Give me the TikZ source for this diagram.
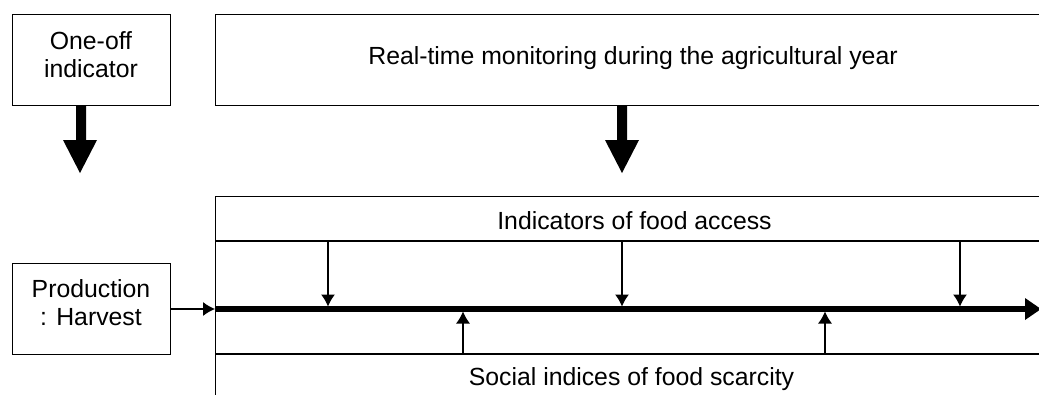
\documentclass[tikz,border=0pt]{standalone}
\usepackage{fontspec}
\setmainfont{Liberation Sans}
\usetikzlibrary{arrows.meta}
\begin{document}
\begin{tikzpicture}[x=0.75pt,y=-0.75pt,
  frame/.style={draw=black,line width=0.8pt},
  lbl/.style={font=\fontsize{18.6pt}{21pt}\selectfont,align=center,inner sep=0pt,anchor=base},
  bigarrow/.style={fill=black,draw=none},
  thin/.style={line width=0.8pt,-{Latex[length=9pt,width=10.5pt]}}]
\useasboundingbox (0,0) rectangle (1039,394);
% top boxes
\node[frame,minimum width=158*0.75pt,minimum height=91*0.75pt,anchor=north west,inner sep=0pt] (oneoff) at (12,14) {};
\node[lbl] (oneofftxt) at (91,77) {One-off\\indicator};
\node[frame,minimum width=840*0.75pt,minimum height=91*0.75pt,anchor=north west,inner sep=0pt] (realtime) at (215,14) {};
\node[lbl] (realtimetxt) at (633,64) {Real-time monitoring during the agricultural year};
% big arrows
\fill[bigarrow] (76,105) -- (86,105) -- (86,140) -- (97,140) -- (80,173) -- (63,140) -- (76,140) -- cycle;
\fill[bigarrow] (617,105) -- (627,105) -- (627,140) -- (639,140) -- (622,173) -- (605,140) -- (617,140) -- cycle;
% production box
\node[frame,minimum width=158*0.75pt,minimum height=91*0.75pt,anchor=north west,inner sep=0pt] (prod) at (12,263) {};
\node[lbl] (prodtxt) at (91,325) {Production\\: Harvest};
% bottom frame
\node[frame,minimum width=840*0.75pt,minimum height=210*0.75pt,anchor=north west,inner sep=0pt] (band) at (215,196) {};
\coordinate (l1a) at (215,241); \coordinate (l1b) at (1055,241);
\coordinate (l2a) at (215,354); \coordinate (l2b) at (1055,354);
\draw[frame] (l1a) -- (l1b);
\draw[frame] (l2a) -- (l2b);
\node[lbl] (access) at (634.5,229) {Indicators of food access};
\node[lbl] (scarcity) at (631.5,385) {Social indices of food scarcity};
% timeline
\coordinate (ts) at (215,309);
\coordinate (te) at (1027,309);
\draw[line width=4.5pt] (ts) -- (te);
\fill (1025,298) -- (1041,309) -- (1025,320) -- cycle;
\draw[thin] (prod.east |- ts) -- (ts);
% indicator arrows
\foreach \x in {328,622,960} \draw[thin] (\x,241) -- (\x,306.5);
\foreach \x in {463,825} \draw[thin] (\x,354) -- (\x,311.5);
\end{tikzpicture}
\end{document}
